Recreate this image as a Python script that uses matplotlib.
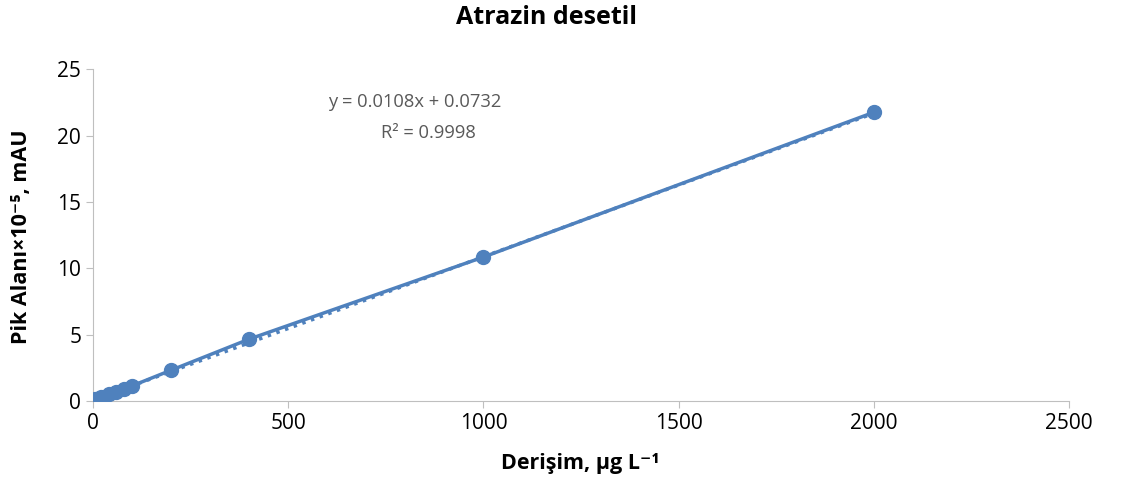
import numpy as np
import matplotlib.pyplot as plt

plt.rcParams['font.family'] = ['Open Sans', 'DejaVu Sans']

# calibration data
conc = [5, 10, 20, 40, 60, 80, 100, 200, 400, 1000, 2000]
area = [0.13, 0.19, 0.30, 0.50, 0.72, 0.93, 1.15, 2.33, 4.67, 10.85, 21.75]
slope, intercept = 0.0108, 0.0732

blue = "#4F81BD"
grey = "#595959"

fig = plt.figure(figsize=(11.21, 4.94), dpi=100)
ax = fig.add_axes([0.083, 0.188, 0.8706, 0.672])

ax.plot(conc, area, color=blue, linewidth=2.5, marker="o", markersize=10, zorder=3)
xt = np.array([min(conc), max(conc)])
ax.plot(xt, slope * xt + intercept, color=blue, linewidth=2.5, linestyle=":", zorder=2)

ax.set_xlim(0, 2500)
ax.set_ylim(0, 25)
ax.set_xticks([0, 500, 1000, 1500, 2000, 2500])
ax.set_yticks([0, 5, 10, 15, 20, 25])
for s in ["top", "right"]:
    ax.spines[s].set_visible(False)
for s in ["left", "bottom"]:
    ax.spines[s].set_color("#BFBFBF")
ax.tick_params(colors="#BFBFBF", labelcolor="black", labelsize=15, length=5)

fig.text(547 / 1121, 1 - 17 / 494, "Atrazin desetil", fontsize=18, fontweight="bold",
         ha="center", va="center")
fig.text(580 / 1121, 1 - 463 / 494, "Derişim, µg L⁻¹", fontsize=15.5, fontweight="bold",
         ha="center", va="center")
fig.text(22 / 1121, 1 - 237 / 494, "Pik Alanı×10⁻⁵, mAU", fontsize=15.5, fontweight="bold",
         ha="center", va="center", rotation=90)

fig.text(415 / 1121, 1 - 102 / 494, "y = 0.0108x + 0.0732", fontsize=13.2, color=grey,
         ha="center", va="center")
fig.text(428 / 1121, 1 - 133 / 494, "R² = 0.9998", fontsize=13.2, color=grey,
         ha="center", va="center")

fig.savefig("out.png", dpi=100)
